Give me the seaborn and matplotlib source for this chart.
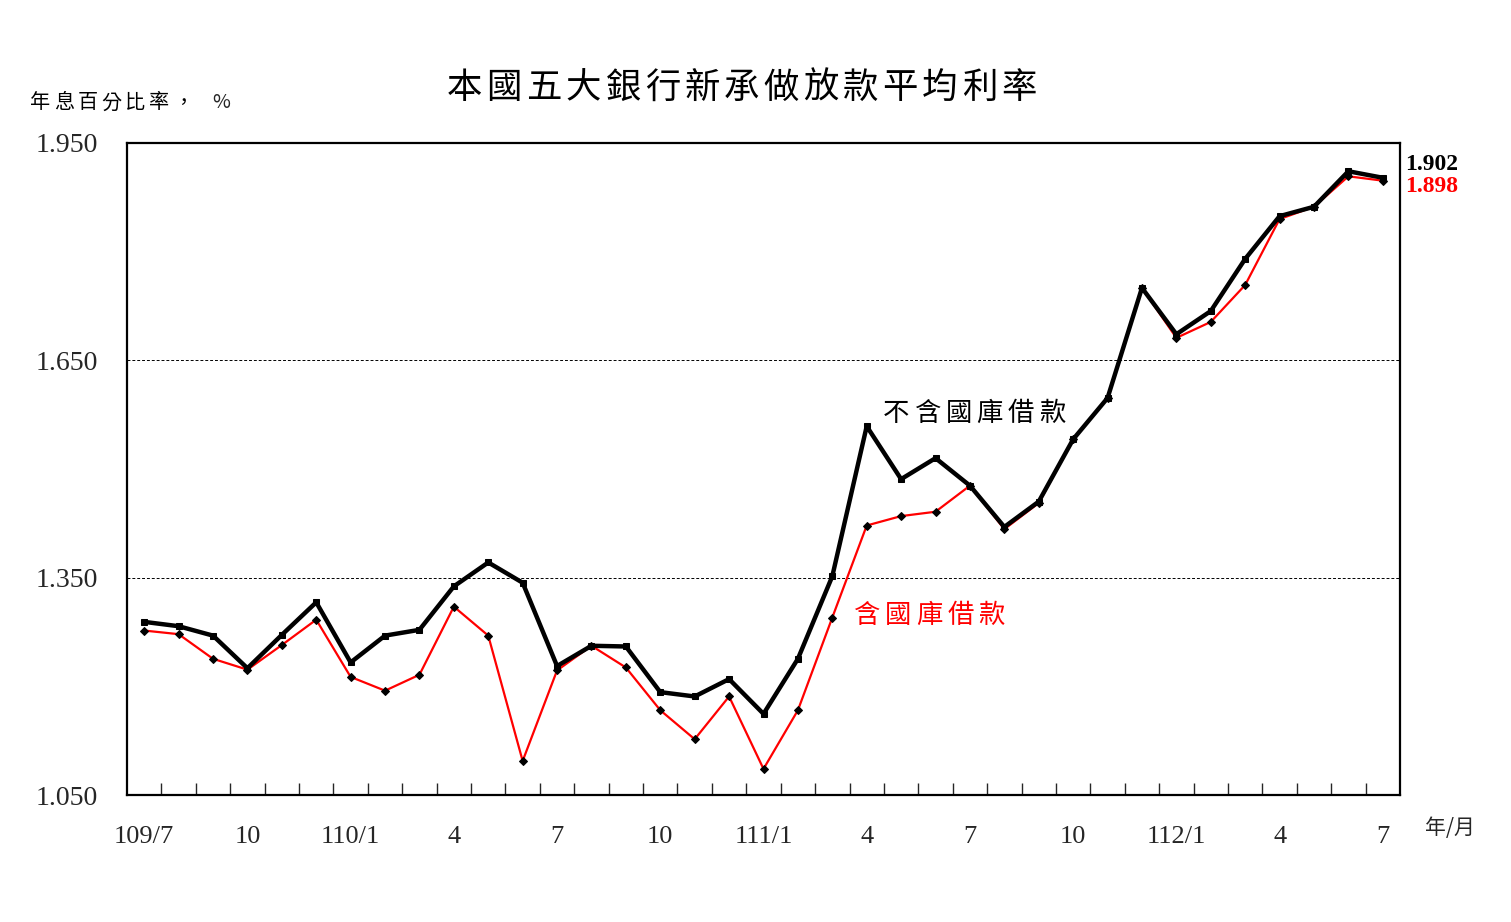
import numpy as np
import pandas as pd
import matplotlib
matplotlib.use("Agg")
import matplotlib.pyplot as plt
import seaborn as sns

months = list(range(37))
excl_treasury = [1.289, 1.283, 1.270, 1.225, 1.271, 1.316, 1.233, 1.270, 1.278, 1.338,
                 1.371, 1.343, 1.228, 1.256, 1.255, 1.192, 1.186, 1.210, 1.162, 1.238,
                 1.352, 1.559, 1.486, 1.515, 1.477, 1.420, 1.455, 1.541, 1.598, 1.750,
                 1.686, 1.718, 1.790, 1.849, 1.862, 1.911, 1.902]
incl_treasury = [1.277, 1.272, 1.238, 1.223, 1.257, 1.292, 1.213, 1.194, 1.216, 1.310,
                 1.270, 1.097, 1.222, 1.256, 1.226, 1.167, 1.127, 1.186, 1.086, 1.167,
                 1.295, 1.422, 1.435, 1.441, 1.477, 1.417, 1.453, 1.541, 1.598, 1.750,
                 1.681, 1.703, 1.754, 1.845, 1.862, 1.904, 1.898]
tick_pos = [0, 3, 6, 9, 12, 15, 18, 21, 24, 27, 30, 33, 36]
tick_labels = ["109/7", "10", "110/1", "4", "7", "10", "111/1", "4", "7", "10", "112/1", "4", "7"]
y_ticks = [1.05, 1.35, 1.65, 1.95]

W, H = 1511, 922

sns.set_style("white")
plt.rcParams['font.family'] = ['Liberation Serif', 'Noto Sans CJK TC', 'DejaVu Sans']
CJK = ['Noto Sans CJK TC', 'Liberation Serif']

df = pd.DataFrame({"m": months, "excl": excl_treasury, "incl": incl_treasury})

fig = plt.figure(figsize=(W/100, H/100), dpi=100)
ax = fig.add_axes([127/W, 1-795/H, (1400-127)/W, (795-143)/H])

sns.lineplot(data=df, x="m", y="incl", ax=ax, color="red", linewidth=1.6,
             marker="D", markersize=4, markerfacecolor="black", markeredgecolor="black", zorder=3)
sns.lineplot(data=df, x="m", y="excl", ax=ax, color="black", linewidth=3.2,
             marker="s", markersize=5, markerfacecolor="black", markeredgecolor="black", zorder=4)

ax.set_xlim(-0.5, 36.5)
ax.set_ylim(1.05, 1.95)
ax.set_xlabel("")
ax.set_ylabel("")

ax.set_yticks(y_ticks)
ax.set_yticklabels([f"{v:.3f}" for v in y_ticks], fontsize=20)
ax.tick_params(axis='y', length=0, pad=21)
for v in y_ticks[1:-1]:
    ax.axhline(v, color="black", linestyle=(0, (3, 2)), linewidth=0.7, zorder=1)

ax.set_xticks(tick_pos)
ax.set_xticklabels(tick_labels, fontsize=19)
ax.set_xticks(np.arange(0.5, 36, 1), minor=True)
ax.tick_params(axis='x', which='major', length=0, pad=22)
ax.tick_params(axis='x', which='minor', direction='in', length=9, width=1, bottom=True)

for s in ax.spines.values():
    s.set_linewidth(1.6)
    s.set_color("black")


def spaced(text, x0, y, step, size, color="black", family=CJK, weight="normal"):
    """Draw text with fixed per-character spacing (pixel coords, left start)."""
    for i, ch in enumerate(text):
        fig.text((x0 + i * step) / W, 1 - y / H, ch, ha="left", va="center",
                 fontsize=size, family=family, color=color, fontweight=weight)


spaced("本國五大銀行新承做放款平均利率", 447, 88, 39.6, 25.5)
spaced("年息百分比率，", 30, 103, 23.8, 14.5)
fig.text(212 / W, 1 - 103 / H, "%", ha="left", va="center", fontsize=14, family=CJK)
fig.text(1425 / W, 1 - 828 / H, "年/月", ha="left", va="center", fontsize=15, family=CJK)

spaced("不含國庫借款", 883, 413, 31.2, 19, weight="medium")
spaced("含國庫借款", 853, 615, 31.4, 19, color="red")

fig.text(1405/W, 1-164/H, f"{excl_treasury[-1]:.3f}", ha="left", va="center",
         fontsize=17, fontweight="bold", color="black")
fig.text(1405/W, 1-186/H, f"{incl_treasury[-1]:.3f}", ha="left", va="center",
         fontsize=17, fontweight="bold", color="red")

fig.savefig("out.png", dpi=100, facecolor="white")
